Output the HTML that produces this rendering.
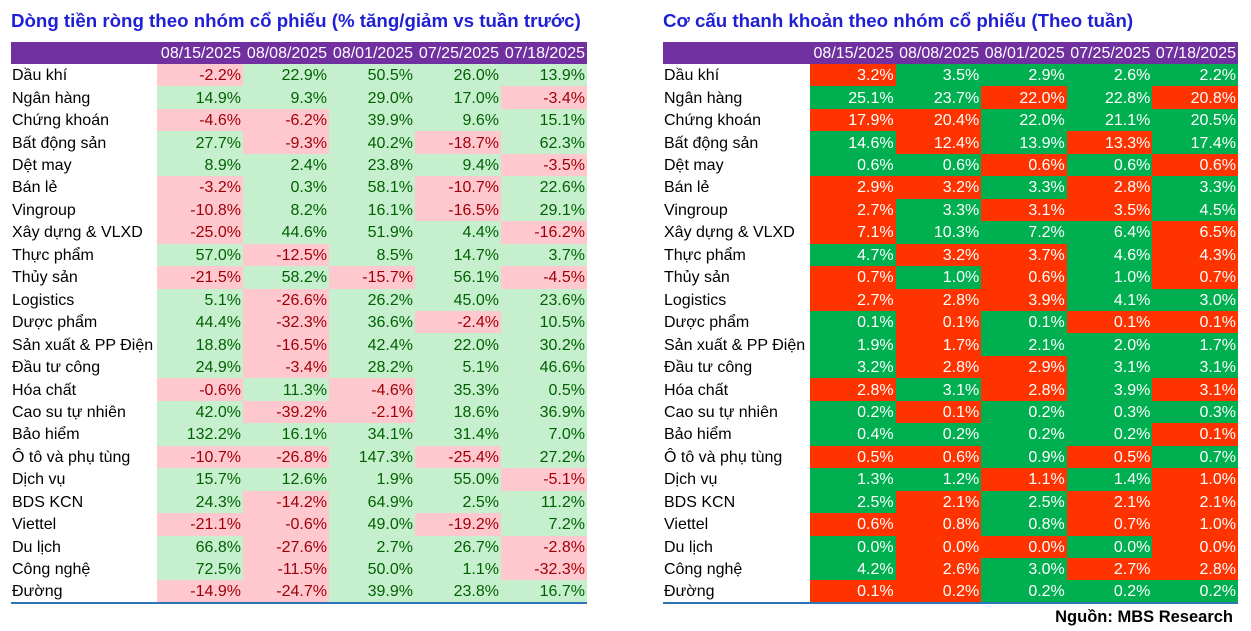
<!DOCTYPE html>
<html><head><meta charset="utf-8"><style>
body{margin:0;width:1251px;height:631px;background:#fff;font-family:"Liberation Sans",sans-serif;position:relative;overflow:hidden}
.t{position:absolute;top:10px;font-weight:bold;font-size:18.7px;color:#1f1fd6;white-space:nowrap}
table{position:absolute;top:42px;border-collapse:collapse;table-layout:fixed;font-size:16px}
tr{height:22.46px}
td,th{padding:2px 2px 0 0;line-height:20px;text-align:right;white-space:nowrap;overflow:hidden}
th{background:#7030a0;color:#fff;font-weight:normal;padding:1px 2px 0 0;line-height:21px}
tr:first-child{height:22px}
td:first-child{text-align:left;padding-left:1px}
tr:last-child td{border-bottom:2px solid #2e75b6}
#L td.p{background:#c6efce;color:#006100}#L td.n{background:#ffc7ce;color:#9c0006}
#R td.g{background:#00b050;color:#fff}#R td.r{background:#ff3300;color:#fff}
.src{position:absolute;right:18px;top:608px;font-weight:bold;font-size:16.5px}
</style></head><body>
<div class="t" style="left:11px">Dòng tiền ròng theo nhóm cổ phiếu (% tăng/giảm vs tuần trước)</div>
<div class="t" style="left:663px">Cơ cấu thanh khoản theo nhóm cổ phiếu (Theo tuần)</div>
<table id="L" style="left:11px;width:576px"><colgroup><col style="width:146px"><col span="5" style="width:86px"></colgroup>
<tr><th></th><th>08/15/2025</th><th>08/08/2025</th><th>08/01/2025</th><th>07/25/2025</th><th>07/18/2025</th></tr>
<tr><td>Dầu khí</td><td class="n">-2.2%</td><td class="p">22.9%</td><td class="p">50.5%</td><td class="p">26.0%</td><td class="p">13.9%</td></tr>
<tr><td>Ngân hàng</td><td class="p">14.9%</td><td class="p">9.3%</td><td class="p">29.0%</td><td class="p">17.0%</td><td class="n">-3.4%</td></tr>
<tr><td>Chứng khoán</td><td class="n">-4.6%</td><td class="n">-6.2%</td><td class="p">39.9%</td><td class="p">9.6%</td><td class="p">15.1%</td></tr>
<tr><td>Bất động sản</td><td class="p">27.7%</td><td class="n">-9.3%</td><td class="p">40.2%</td><td class="n">-18.7%</td><td class="p">62.3%</td></tr>
<tr><td>Dệt may</td><td class="p">8.9%</td><td class="p">2.4%</td><td class="p">23.8%</td><td class="p">9.4%</td><td class="n">-3.5%</td></tr>
<tr><td>Bán lẻ</td><td class="n">-3.2%</td><td class="p">0.3%</td><td class="p">58.1%</td><td class="n">-10.7%</td><td class="p">22.6%</td></tr>
<tr><td>Vingroup</td><td class="n">-10.8%</td><td class="p">8.2%</td><td class="p">16.1%</td><td class="n">-16.5%</td><td class="p">29.1%</td></tr>
<tr><td>Xây dựng &amp; VLXD</td><td class="n">-25.0%</td><td class="p">44.6%</td><td class="p">51.9%</td><td class="p">4.4%</td><td class="n">-16.2%</td></tr>
<tr><td>Thực phẩm</td><td class="p">57.0%</td><td class="n">-12.5%</td><td class="p">8.5%</td><td class="p">14.7%</td><td class="p">3.7%</td></tr>
<tr><td>Thủy sản</td><td class="n">-21.5%</td><td class="p">58.2%</td><td class="n">-15.7%</td><td class="p">56.1%</td><td class="n">-4.5%</td></tr>
<tr><td>Logistics</td><td class="p">5.1%</td><td class="n">-26.6%</td><td class="p">26.2%</td><td class="p">45.0%</td><td class="p">23.6%</td></tr>
<tr><td>Dược phẩm</td><td class="p">44.4%</td><td class="n">-32.3%</td><td class="p">36.6%</td><td class="n">-2.4%</td><td class="p">10.5%</td></tr>
<tr><td>Sản xuất &amp; PP Điện</td><td class="p">18.8%</td><td class="n">-16.5%</td><td class="p">42.4%</td><td class="p">22.0%</td><td class="p">30.2%</td></tr>
<tr><td>Đầu tư công</td><td class="p">24.9%</td><td class="n">-3.4%</td><td class="p">28.2%</td><td class="p">5.1%</td><td class="p">46.6%</td></tr>
<tr><td>Hóa chất</td><td class="n">-0.6%</td><td class="p">11.3%</td><td class="n">-4.6%</td><td class="p">35.3%</td><td class="p">0.5%</td></tr>
<tr><td>Cao su tự nhiên</td><td class="p">42.0%</td><td class="n">-39.2%</td><td class="n">-2.1%</td><td class="p">18.6%</td><td class="p">36.9%</td></tr>
<tr><td>Bảo hiểm</td><td class="p">132.2%</td><td class="p">16.1%</td><td class="p">34.1%</td><td class="p">31.4%</td><td class="p">7.0%</td></tr>
<tr><td>Ô tô và phụ tùng</td><td class="n">-10.7%</td><td class="n">-26.8%</td><td class="p">147.3%</td><td class="n">-25.4%</td><td class="p">27.2%</td></tr>
<tr><td>Dịch vụ</td><td class="p">15.7%</td><td class="p">12.6%</td><td class="p">1.9%</td><td class="p">55.0%</td><td class="n">-5.1%</td></tr>
<tr><td>BDS KCN</td><td class="p">24.3%</td><td class="n">-14.2%</td><td class="p">64.9%</td><td class="p">2.5%</td><td class="p">11.2%</td></tr>
<tr><td>Viettel</td><td class="n">-21.1%</td><td class="n">-0.6%</td><td class="p">49.0%</td><td class="n">-19.2%</td><td class="p">7.2%</td></tr>
<tr><td>Du lịch</td><td class="p">66.8%</td><td class="n">-27.6%</td><td class="p">2.7%</td><td class="p">26.7%</td><td class="n">-2.8%</td></tr>
<tr><td>Công nghệ</td><td class="p">72.5%</td><td class="n">-11.5%</td><td class="p">50.0%</td><td class="p">1.1%</td><td class="n">-32.3%</td></tr>
<tr><td>Đường</td><td class="n">-14.9%</td><td class="n">-24.7%</td><td class="p">39.9%</td><td class="p">23.8%</td><td class="p">16.7%</td></tr>
</table>
<table id="R" style="left:663px;width:575px"><colgroup><col style="width:147px"><col span="5" style="width:85.6px"></colgroup>
<tr><th></th><th>08/15/2025</th><th>08/08/2025</th><th>08/01/2025</th><th>07/25/2025</th><th>07/18/2025</th></tr>
<tr><td>Dầu khí</td><td class="r">3.2%</td><td class="g">3.5%</td><td class="g">2.9%</td><td class="g">2.6%</td><td class="g">2.2%</td></tr>
<tr><td>Ngân hàng</td><td class="g">25.1%</td><td class="g">23.7%</td><td class="r">22.0%</td><td class="g">22.8%</td><td class="r">20.8%</td></tr>
<tr><td>Chứng khoán</td><td class="r">17.9%</td><td class="r">20.4%</td><td class="g">22.0%</td><td class="g">21.1%</td><td class="g">20.5%</td></tr>
<tr><td>Bất động sản</td><td class="g">14.6%</td><td class="r">12.4%</td><td class="g">13.9%</td><td class="r">13.3%</td><td class="g">17.4%</td></tr>
<tr><td>Dệt may</td><td class="g">0.6%</td><td class="g">0.6%</td><td class="r">0.6%</td><td class="g">0.6%</td><td class="r">0.6%</td></tr>
<tr><td>Bán lẻ</td><td class="r">2.9%</td><td class="r">3.2%</td><td class="g">3.3%</td><td class="r">2.8%</td><td class="g">3.3%</td></tr>
<tr><td>Vingroup</td><td class="r">2.7%</td><td class="g">3.3%</td><td class="r">3.1%</td><td class="r">3.5%</td><td class="g">4.5%</td></tr>
<tr><td>Xây dựng &amp; VLXD</td><td class="r">7.1%</td><td class="g">10.3%</td><td class="g">7.2%</td><td class="g">6.4%</td><td class="r">6.5%</td></tr>
<tr><td>Thực phẩm</td><td class="g">4.7%</td><td class="r">3.2%</td><td class="r">3.7%</td><td class="g">4.6%</td><td class="r">4.3%</td></tr>
<tr><td>Thủy sản</td><td class="r">0.7%</td><td class="g">1.0%</td><td class="r">0.6%</td><td class="g">1.0%</td><td class="r">0.7%</td></tr>
<tr><td>Logistics</td><td class="r">2.7%</td><td class="r">2.8%</td><td class="r">3.9%</td><td class="g">4.1%</td><td class="g">3.0%</td></tr>
<tr><td>Dược phẩm</td><td class="g">0.1%</td><td class="r">0.1%</td><td class="g">0.1%</td><td class="r">0.1%</td><td class="r">0.1%</td></tr>
<tr><td>Sản xuất &amp; PP Điện</td><td class="g">1.9%</td><td class="r">1.7%</td><td class="g">2.1%</td><td class="g">2.0%</td><td class="g">1.7%</td></tr>
<tr><td>Đầu tư công</td><td class="g">3.2%</td><td class="r">2.8%</td><td class="r">2.9%</td><td class="g">3.1%</td><td class="g">3.1%</td></tr>
<tr><td>Hóa chất</td><td class="r">2.8%</td><td class="g">3.1%</td><td class="r">2.8%</td><td class="g">3.9%</td><td class="r">3.1%</td></tr>
<tr><td>Cao su tự nhiên</td><td class="g">0.2%</td><td class="r">0.1%</td><td class="g">0.2%</td><td class="g">0.3%</td><td class="g">0.3%</td></tr>
<tr><td>Bảo hiểm</td><td class="g">0.4%</td><td class="g">0.2%</td><td class="g">0.2%</td><td class="g">0.2%</td><td class="r">0.1%</td></tr>
<tr><td>Ô tô và phụ tùng</td><td class="r">0.5%</td><td class="r">0.6%</td><td class="g">0.9%</td><td class="r">0.5%</td><td class="g">0.7%</td></tr>
<tr><td>Dịch vụ</td><td class="g">1.3%</td><td class="g">1.2%</td><td class="r">1.1%</td><td class="g">1.4%</td><td class="r">1.0%</td></tr>
<tr><td>BDS KCN</td><td class="g">2.5%</td><td class="r">2.1%</td><td class="g">2.5%</td><td class="r">2.1%</td><td class="r">2.1%</td></tr>
<tr><td>Viettel</td><td class="r">0.6%</td><td class="r">0.8%</td><td class="g">0.8%</td><td class="r">0.7%</td><td class="r">1.0%</td></tr>
<tr><td>Du lịch</td><td class="g">0.0%</td><td class="r">0.0%</td><td class="r">0.0%</td><td class="g">0.0%</td><td class="r">0.0%</td></tr>
<tr><td>Công nghệ</td><td class="g">4.2%</td><td class="r">2.6%</td><td class="g">3.0%</td><td class="r">2.7%</td><td class="r">2.8%</td></tr>
<tr><td>Đường</td><td class="r">0.1%</td><td class="r">0.2%</td><td class="g">0.2%</td><td class="g">0.2%</td><td class="g">0.2%</td></tr>
</table>
<div class="src">Nguồn: MBS Research</div>
</body></html>
